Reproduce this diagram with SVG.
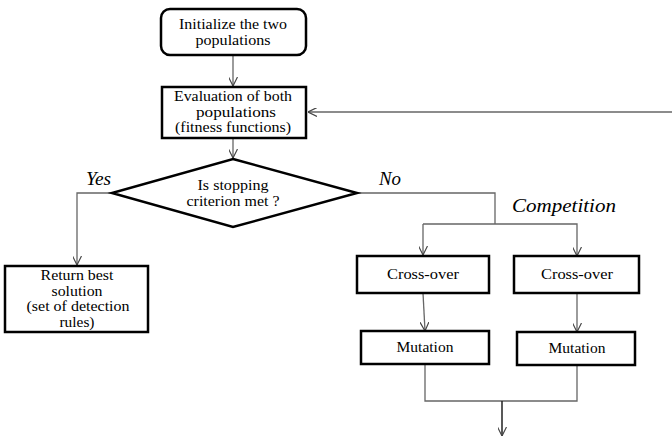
<svg xmlns="http://www.w3.org/2000/svg" width="672" height="437" viewBox="0 0 672 437" font-family="'Liberation Serif', 'Times New Roman', serif">
<defs>
<style>
.box{fill:#fff;stroke:#000;stroke-width:2.5}
.t{font-family:"Liberation Serif","Times New Roman",serif;font-size:14px;fill:#000;text-anchor:middle}
.s{font-size:15.5px}
.lbl{font-family:"Liberation Serif","Times New Roman",serif;font-size:19.5px;font-style:italic;fill:#000}
.c{fill:none;stroke:#666;stroke-width:1.3}
.cd{fill:none;stroke:#222;stroke-width:1.5}
</style>
<marker id="ah" viewBox="0 0 10 10" refX="10" refY="5" markerWidth="9" markerHeight="9" markerUnits="userSpaceOnUse" orient="auto">
<path d="M0,0 L10,5 L0,10" fill="none" stroke="#444" stroke-width="1.3"/>
</marker>
</defs>
<rect width="672" height="437" fill="#fff"/>
<g id="connectors">
<line class="c" x1="233" y1="56" x2="233" y2="86" marker-end="url(#ah)"/>
<line class="c" x1="672" y1="112" x2="308" y2="112" marker-end="url(#ah)"/>
<line class="c" x1="233" y1="139" x2="233" y2="158" marker-end="url(#ah)"/>
<polyline class="c" points="112,193 77,193 77,265" marker-end="url(#ah)"/>
<polyline class="c" points="357,193 495,193 495,224"/>
<polyline class="c" points="423,224 577,224 577,256" marker-end="url(#ah)"/>
<line class="c" x1="423" y1="224" x2="423" y2="255" marker-end="url(#ah)"/>
<line class="c" x1="423" y1="293" x2="425" y2="331" marker-end="url(#ah)"/>
<line class="c" x1="577" y1="293" x2="577" y2="332" marker-end="url(#ah)"/>
<polyline class="c" points="425,365 425,401 577,401 577,365"/>
<line class="cd" x1="502" y1="401" x2="502" y2="436" marker-end="url(#ah)"/>
</g>
<g id="init">
<rect class="box" x="161" y="9" width="145" height="46" rx="9"/>
<text class="t" x="233" y="29" textLength="108" lengthAdjust="spacingAndGlyphs">Initialize  the two</text>
<text class="t" x="233" y="44.5" textLength="75" lengthAdjust="spacingAndGlyphs">populations</text>
</g>
<g id="eval">
<rect class="box" x="162" y="87" width="144" height="51"/>
<text class="t" x="233" y="101" textLength="118" lengthAdjust="spacingAndGlyphs">Evaluation  of both</text>
<text class="t" x="236" y="116.5" textLength="80" lengthAdjust="spacingAndGlyphs">populations</text>
<text class="t" x="233" y="132" textLength="116" lengthAdjust="spacingAndGlyphs">(fitness functions)</text>
</g>
<g id="decision">
<polygon class="box" points="233,159 357,193 233,227 112,193"/>
<text class="t" x="233" y="190" textLength="71" lengthAdjust="spacingAndGlyphs">Is stopping</text>
<text class="t" x="233" y="206" textLength="93" lengthAdjust="spacingAndGlyphs">criterion  met ?</text>
</g>
<g id="labels">
<text class="lbl" x="86" y="185" textLength="25" lengthAdjust="spacingAndGlyphs">Yes</text>
<text class="lbl" x="379" y="185" textLength="22" lengthAdjust="spacingAndGlyphs">No</text>
<text class="lbl" x="512" y="212" textLength="104" lengthAdjust="spacingAndGlyphs">Competition</text>
</g>
<g id="return">
<rect class="box" x="5" y="266" width="143" height="66"/>
<text class="t" x="77" y="280" textLength="73" lengthAdjust="spacingAndGlyphs">Return best</text>
<text class="t" x="77" y="295.5" textLength="51" lengthAdjust="spacingAndGlyphs">solution</text>
<text class="t" x="78" y="311" textLength="103" lengthAdjust="spacingAndGlyphs">(set of detection</text>
<text class="t" x="77" y="326.5" textLength="35" lengthAdjust="spacingAndGlyphs">rules)</text>
</g>
<g id="crossover1">
<rect class="box" x="357" y="256" width="132" height="37"/>
<text class="t s" x="423" y="279" textLength="72" lengthAdjust="spacingAndGlyphs">Cross-over</text>
</g>
<g id="crossover2">
<rect class="box" x="514" y="256" width="125" height="37"/>
<text class="t s" x="577" y="279" textLength="72" lengthAdjust="spacingAndGlyphs">Cross-over</text>
</g>
<g id="mutation1">
<rect class="box" x="361" y="331" width="128" height="33"/>
<text class="t s" x="425" y="352">Mutation</text>
</g>
<g id="mutation2">
<rect class="box" x="517" y="332" width="118" height="33"/>
<text class="t s" x="577" y="353">Mutation</text>
</g>
</svg>
